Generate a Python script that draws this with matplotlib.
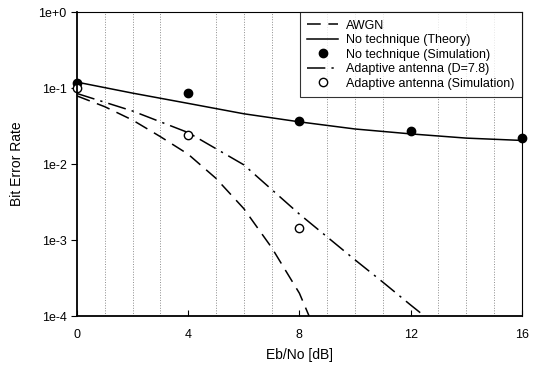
import matplotlib
matplotlib.use('Agg')
import matplotlib.pyplot as plt

plt.rcParams['font.family'] = ['Liberation Sans', 'DejaVu Sans']

# AWGN reference curve
awgn_x = [0, 1, 2, 3, 4, 5, 6, 7, 8, 8.35]
awgn_y = [0.079, 0.057, 0.038, 0.023, 0.0135, 0.0065, 0.0026, 0.0008, 0.0002, 0.0001]

# no technique, theory and simulation
theory_x = [0, 2, 4, 6, 8, 10, 12, 14, 16]
theory_y = [0.12, 0.086, 0.063, 0.046, 0.036, 0.029, 0.025, 0.022, 0.0205]
nosim_x = [0, 4, 8, 12, 16]
nosim_y = [0.116, 0.087, 0.037, 0.027, 0.022]

# adaptive antenna, theory (D=7.8) and simulation
ada_x = [0, 2, 4, 6, 8, 10, 11, 12, 12.5]
ada_y = [0.085, 0.05, 0.026, 0.0098, 0.0022, 0.00055, 0.00028, 0.00014, 0.0001]
adasim_x = [0, 4, 8]
adasim_y = [0.10, 0.024, 0.00144]

fig = plt.figure(figsize=(5.38, 3.68), dpi=100)
ax = fig.add_axes([0.143, 0.141, 0.827, 0.826])

ax.semilogy(awgn_x, awgn_y, color='k', lw=1.1, dashes=(9, 5), label='AWGN')
ax.semilogy(theory_x, theory_y, color='k', lw=1.1, label='No technique (Theory)')
ax.semilogy(nosim_x, nosim_y, 'o', color='k', ms=6, label='No technique (Simulation)', clip_on=False)
ax.semilogy(ada_x, ada_y, color='k', lw=1.1, dashes=(12, 4, 1.5, 4), label='Adaptive antenna (D=7.8)')
ax.semilogy(adasim_x, adasim_y, 'o', mfc='white', mec='k', ms=6, label='Adaptive antenna (Simulation)', clip_on=False)

ax.set_xlim(0, 16)
ax.set_ylim(1e-4, 1)
ax.set_xticks([0, 4, 8, 12, 16])
ax.set_yticks([1e-4, 1e-3, 1e-2, 1e-1, 1])
ax.set_yticklabels(['1e-4', '1e-3', '1e-2', '1e-1', '1e+0'])
ax.minorticks_off()
ax.set_xticks(range(0, 17), minor=True)
ax.tick_params(axis='x', which='minor', length=0)
ax.grid(True, which='minor', axis='x', color='0.55', ls=':', lw=0.7)
ax.tick_params(axis='both', which='major', labelsize=9, length=4)
ax.tick_params(axis='x', direction='in', pad=9)

for s in ['left', 'bottom']:
    ax.spines[s].set_linewidth(1.3)
for s in ['top', 'right']:
    ax.spines[s].set_linewidth(0.8)

ax.set_xlabel('Eb/No [dB]', fontsize=10, labelpad=5)
ax.set_ylabel('Bit Error Rate', fontsize=10, labelpad=10)

leg = ax.legend(loc='upper right', fontsize=9, frameon=True, fancybox=False,
                edgecolor='k', borderaxespad=0, handlelength=2.5,
                labelspacing=0.2, borderpad=0.6, handletextpad=0.6)
leg.get_frame().set_linewidth(0.8)

fig.savefig('out.png', dpi=100)
